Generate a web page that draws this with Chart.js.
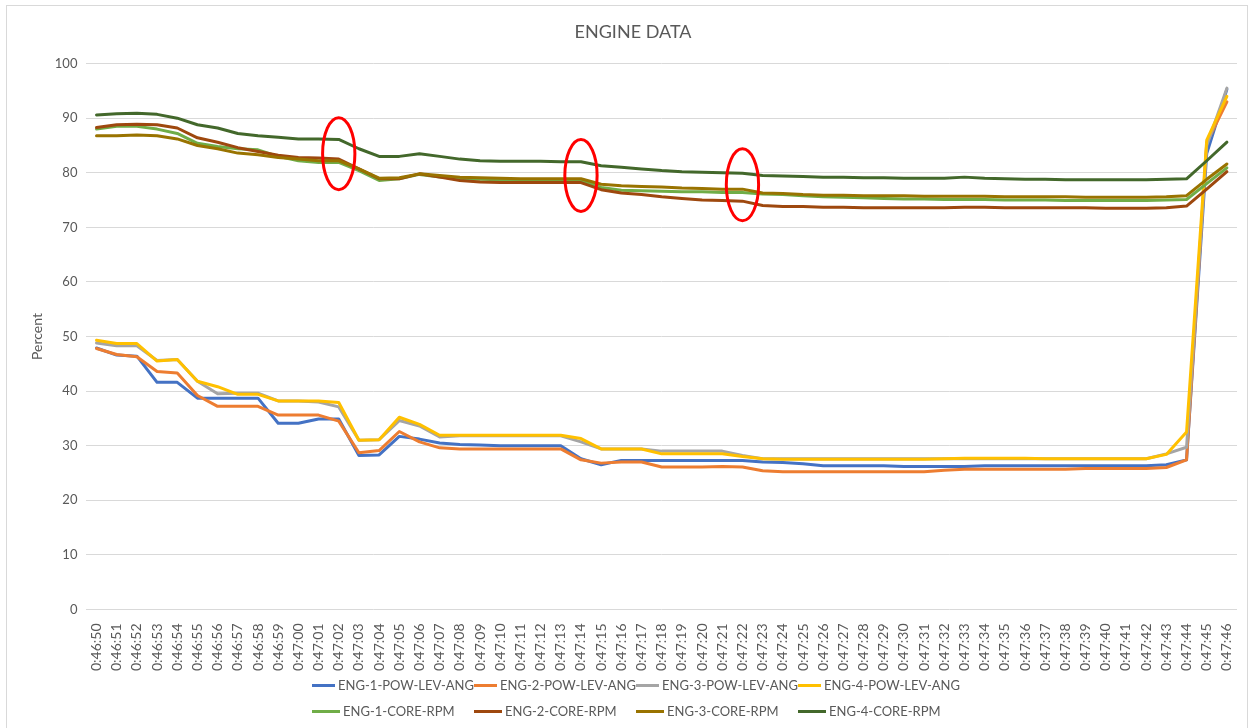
<!DOCTYPE html>
<html>
<head>
<meta charset="utf-8">
<script src="https://cdn.jsdelivr.net/npm/chart.js@4.4.0/dist/chart.umd.min.js"></script>
<style>
  html, body { margin: 0; padding: 0; background: #fff; }
  #frame { position: absolute; left: 6px; top: 5px; width: 1242px; height: 740px; border: 1px solid #d9d9d9; box-sizing: border-box; }
  #wrap { position: absolute; left: 0; top: 0; width: 1253px; height: 728px; }
  #legend { position: absolute; left: 312px; top: 676px; display: grid; grid-template-columns: repeat(4, 162px); row-gap: 8px;
    font-family: Lato, "Open Sans", sans-serif; font-size: 13px; color: #595959; }
  #legend .item { display: flex; align-items: center; height: 18px; white-space: nowrap; }
  #legend .swatch { display: inline-block; width: 28px; height: 3px; margin-right: 3px; }
</style>
</head>
<body>
<div id="frame"></div>
<div id="wrap"><canvas id="engineChart" width="1253" height="728"></canvas></div>
<div id="legend"></div>
<script>
// time stamps, one per second
const timeLabels = [
  '0:46:50','0:46:51','0:46:52','0:46:53','0:46:54','0:46:55','0:46:56','0:46:57','0:46:58','0:46:59',
  '0:47:00','0:47:01','0:47:02','0:47:03','0:47:04','0:47:05','0:47:06','0:47:07','0:47:08','0:47:09',
  '0:47:10','0:47:11','0:47:12','0:47:13','0:47:14','0:47:15','0:47:16','0:47:17','0:47:18','0:47:19',
  '0:47:20','0:47:21','0:47:22','0:47:23','0:47:24','0:47:25','0:47:26','0:47:27','0:47:28','0:47:29',
  '0:47:30','0:47:31','0:47:32','0:47:33','0:47:34','0:47:35','0:47:36','0:47:37','0:47:38','0:47:39',
  '0:47:40','0:47:41','0:47:42','0:47:43','0:47:44','0:47:45','0:47:46'
];

const eng1PowLevAng = [
  47.9, 46.6, 46.4, 41.6, 41.6, 38.7, 38.7, 38.7, 38.7, 34.1,
  34.1, 34.9, 34.9, 28.2, 28.3, 31.7, 31.2, 30.5, 30.2, 30.1,
  30.0, 30.0, 30.0, 30.0, 27.6, 26.5, 27.3, 27.3, 27.3, 27.3,
  27.3, 27.3, 27.3, 27.0, 26.9, 26.7, 26.3, 26.3, 26.3, 26.3,
  26.2, 26.2, 26.2, 26.2, 26.3, 26.3, 26.3, 26.3, 26.3, 26.3,
  26.3, 26.3, 26.3, 26.5, 27.4, 83.5, 95.3
];
const eng2PowLevAng = [
  47.8, 46.7, 46.3, 43.6, 43.3, 39.2, 37.2, 37.2, 37.2, 35.6,
  35.6, 35.6, 34.5, 28.7, 29.1, 32.6, 30.7, 29.6, 29.4, 29.4,
  29.4, 29.4, 29.4, 29.4, 27.4, 26.8, 27.0, 27.0, 26.1, 26.1,
  26.1, 26.2, 26.1, 25.4, 25.2, 25.2, 25.2, 25.2, 25.2, 25.2,
  25.2, 25.2, 25.5, 25.7, 25.7, 25.7, 25.7, 25.7, 25.7, 25.8,
  25.8, 25.8, 25.8, 26.0, 27.4, 85.5, 93.0
];
const eng3PowLevAng = [
  48.8, 48.3, 48.3, 45.6, 45.8, 41.8, 39.5, 39.6, 39.6, 38.2,
  38.2, 38.0, 37.1, 31.0, 31.1, 34.6, 33.6, 31.6, 31.8, 31.8,
  31.8, 31.8, 31.8, 31.8, 30.7, 29.4, 29.4, 29.4, 29.0, 29.0,
  29.0, 29.0, 28.2, 27.6, 27.6, 27.6, 27.6, 27.6, 27.6, 27.6,
  27.6, 27.6, 27.6, 27.6, 27.6, 27.6, 27.6, 27.6, 27.6, 27.6,
  27.6, 27.6, 27.6, 28.5, 29.7, 85.0, 95.5
];
const eng4PowLevAng = [
  49.3, 48.7, 48.7, 45.5, 45.8, 41.8, 40.8, 39.4, 39.4, 38.2,
  38.2, 38.2, 37.9, 31.0, 31.1, 35.2, 33.9, 31.9, 31.9, 31.9,
  31.9, 31.9, 31.9, 31.9, 31.3, 29.4, 29.4, 29.4, 28.5, 28.5,
  28.5, 28.5, 28.0, 27.6, 27.5, 27.5, 27.5, 27.5, 27.5, 27.5,
  27.5, 27.5, 27.6, 27.7, 27.7, 27.7, 27.7, 27.6, 27.6, 27.6,
  27.6, 27.6, 27.6, 28.4, 32.5, 86.0, 94.0
];

const eng1CoreRpm = [
  88.0, 88.5, 88.5, 88.0, 87.2, 85.4, 84.8, 84.4, 84.2, 83.0,
  82.2, 81.9, 81.9, 80.4, 78.6, 78.9, 79.7, 79.2, 78.9, 78.8,
  78.7, 78.7, 78.7, 78.7, 78.6, 77.3, 76.8, 76.7, 76.6, 76.5,
  76.5, 76.4, 76.4, 76.1, 76.0, 75.8, 75.6, 75.5, 75.4, 75.3,
  75.2, 75.2, 75.1, 75.1, 75.1, 75.0, 75.0, 75.0, 74.9, 74.9,
  74.9, 74.9, 74.9, 75.0, 75.1, 78.0, 80.9
];
const eng2CoreRpm = [
  88.3, 88.8, 88.9, 88.8, 88.2, 86.4, 85.6, 84.6, 83.9, 83.2,
  82.8, 82.7, 82.5, 80.7, 78.9, 78.9, 79.8, 79.2, 78.6, 78.3,
  78.2, 78.2, 78.2, 78.2, 78.2, 76.9, 76.3, 76.0, 75.6, 75.3,
  75.0, 74.9, 74.8, 74.0, 73.8, 73.8, 73.7, 73.7, 73.6, 73.6,
  73.6, 73.6, 73.6, 73.7, 73.7, 73.6, 73.6, 73.6, 73.6, 73.6,
  73.5, 73.5, 73.5, 73.6, 73.9, 77.0, 80.2
];
const eng3CoreRpm = [
  86.8, 86.8, 86.9, 86.8, 86.2, 85.0, 84.4, 83.6, 83.3, 82.8,
  82.5, 82.2, 82.2, 80.7, 79.0, 79.1, 79.8, 79.5, 79.2, 79.1,
  79.0, 78.9, 78.9, 78.9, 78.9, 77.9, 77.6, 77.5, 77.4, 77.2,
  77.1, 77.0, 77.0, 76.3, 76.2, 76.0, 75.9, 75.9, 75.8, 75.8,
  75.8, 75.7, 75.7, 75.7, 75.7, 75.6, 75.6, 75.6, 75.6, 75.5,
  75.5, 75.5, 75.5, 75.6, 75.8, 78.8, 81.6
];
const eng4CoreRpm = [
  90.6, 90.8, 90.9, 90.7, 90.0, 88.8, 88.2, 87.2, 86.8, 86.5,
  86.2, 86.2, 86.1, 84.4, 83.0, 83.0, 83.5, 83.0, 82.5, 82.2,
  82.1, 82.1, 82.1, 82.0, 82.0, 81.3, 81.0, 80.7, 80.4, 80.2,
  80.1, 80.0, 79.9, 79.5, 79.4, 79.3, 79.2, 79.2, 79.1, 79.1,
  79.0, 79.0, 79.0, 79.2, 79.0, 78.9, 78.8, 78.8, 78.7, 78.7,
  78.7, 78.7, 78.7, 78.8, 78.9, 82.2, 85.6
];

// red circles drawn on the chart: which second and around which value
const circleTimes = ['0:47:02', '0:47:14', '0:47:22'];
const circleValues = [83.5, 79.5, 77.8];

const seriesNames = [
  'ENG-1-POW-LEV-ANG', 'ENG-2-POW-LEV-ANG', 'ENG-3-POW-LEV-ANG', 'ENG-4-POW-LEV-ANG',
  'ENG-1-CORE-RPM', 'ENG-2-CORE-RPM', 'ENG-3-CORE-RPM', 'ENG-4-CORE-RPM'
];
const seriesData = [eng1PowLevAng, eng2PowLevAng, eng3PowLevAng, eng4PowLevAng,
  eng1CoreRpm, eng2CoreRpm, eng3CoreRpm, eng4CoreRpm];
const seriesColors = ['#4472C4', '#ED7D31', '#A5A5A5', '#FFC000', '#70AD47', '#9E480E', '#997300', '#43682B'];

const FONT = 'Lato, "Open Sans", sans-serif';

const circlePlugin = {
  id: 'circles',
  afterDatasetsDraw(chart) {
    const xs = chart.scales.x, ys = chart.scales.y, ctx = chart.ctx;
    const step = xs.getPixelForValue(1) - xs.getPixelForValue(0);
    ctx.save();
    ctx.strokeStyle = '#FF0000';
    ctx.lineWidth = 3;
    for (let i = 0; i < circleTimes.length; i++) {
      const cx = xs.getPixelForValue(timeLabels.indexOf(circleTimes[i]));
      const cy = ys.getPixelForValue(circleValues[i]);
      const ry = Math.abs(ys.getPixelForValue(circleValues[i] + 6.6) - cy);
      ctx.beginPath();
      ctx.ellipse(cx, cy, step * 0.8, ry, 0, 0, Math.PI * 2);
      ctx.stroke();
    }
    ctx.restore();
  }
};

const datasets = seriesNames.map((name, i) => ({
  label: name,
  data: seriesData[i],
  borderColor: seriesColors[i],
  backgroundColor: seriesColors[i],
  borderWidth: 3,
  pointRadius: 0,
  tension: 0,
  borderJoinStyle: 'round',
  borderCapStyle: 'round',
  order: seriesNames.length - i
}));

const chart = new Chart(document.getElementById('engineChart'), {
  type: 'line',
  data: { labels: timeLabels, datasets: datasets },
  plugins: [circlePlugin],
  options: {
    responsive: false,
    animation: false,
    layout: { padding: { left: 29, right: 16, top: 0, bottom: 51 } },
    plugins: {
      legend: { display: false },
      tooltip: { enabled: false },
      title: {
        display: true,
        text: 'ENGINE DATA',
        color: '#595959',
        font: { family: FONT, size: 18, weight: 'normal' },
        padding: { top: 21, bottom: 21 }
      }
    },
    scales: {
      x: {
        offset: true,
        grid: { display: false },
        border: { display: false },
        ticks: {
          autoSkip: false,
          minRotation: 90,
          maxRotation: 90,
          padding: 6,
          color: '#595959',
          font: { family: FONT, size: 14 }
        }
      },
      y: {
        min: 0,
        max: 100,
        ticks: { stepSize: 10, padding: 9, color: '#595959', font: { family: FONT, size: 13 } },
        grid: { color: '#d9d9d9', lineWidth: 1, drawTicks: false },
        border: { display: false },
        title: {
          display: true,
          text: 'Percent',
          color: '#595959',
          font: { family: FONT, size: 14 },
          padding: { top: 0, bottom: 0 }
        }
      }
    }
  }
});

// legend laid out as a 4 x 2 grid, as in the original
const legendBox = document.getElementById('legend');
chart.data.datasets.forEach(ds => {
  const item = document.createElement('div');
  item.className = 'item';
  const sw = document.createElement('span');
  sw.className = 'swatch';
  sw.style.background = ds.borderColor;
  const txt = document.createElement('span');
  txt.textContent = ds.label;
  item.appendChild(sw);
  item.appendChild(txt);
  legendBox.appendChild(item);
});
</script>
</body>
</html>
